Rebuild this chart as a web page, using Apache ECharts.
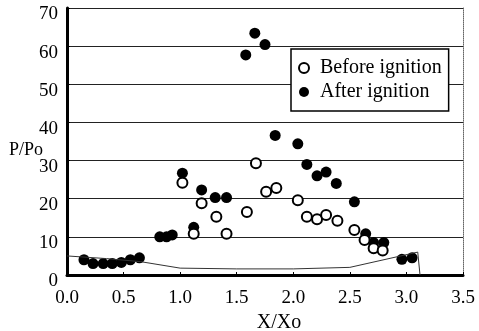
<!DOCTYPE html>
<html>
<head>
<meta charset="utf-8">
<script src="https://cdn.jsdelivr.net/npm/echarts@6/dist/echarts.min.js"></script>
<style>
html, body { margin: 0; padding: 0; background: #fff; }
#main { width: 479px; height: 331px; }
</style>
</head>
<body>
<div id="main"></div>
<script>
// 数据：X/Xo 与 P/Po
const beforeX = [1.02, 1.12, 1.19, 1.32, 1.41, 1.59, 1.67, 1.76, 1.85, 2.04, 2.12, 2.21, 2.29, 2.39, 2.54, 2.63, 2.71, 2.79];
const beforeY = [24.2, 10.8, 18.8, 15.3, 10.8, 16.5, 29.3, 21.8, 22.8, 19.6, 15.3, 14.6, 15.7, 14.2, 11.8, 9.2, 7.0, 6.4];
const afterX = [0.15, 0.23, 0.32, 0.40, 0.48, 0.56, 0.64, 0.82, 0.88, 0.93, 1.02, 1.12, 1.19, 1.31, 1.41, 1.58, 1.66, 1.75, 1.84, 2.04, 2.12, 2.21, 2.29, 2.38, 2.54, 2.64, 2.71, 2.80, 2.96, 3.05];
const afterY = [4.0, 3.0, 3.0, 3.0, 3.3, 4.0, 4.5, 10.0, 10.0, 10.5, 26.7, 12.5, 22.3, 20.3, 20.3, 57.7, 63.4, 60.4, 36.6, 34.4, 29.0, 26.0, 27.0, 24.0, 19.2, 10.8, 8.5, 8.5, 4.1, 4.5];
// 底部的细线
const lineX = [0.0, 0.35, 0.65, 1.0, 1.5, 2.0, 2.5, 3.1, 3.12];
const lineY = [5.0, 4.3, 3.5, 1.8, 1.6, 1.6, 2.0, 6.0, 0.0];
const xTicks = [0, 0.5, 1, 1.5, 2, 2.5, 3, 3.5];
const yTicks = [0, 10, 20, 30, 40, 50, 60, 70];

const zip = (xs, ys) => xs.map((x, i) => [x, ys[i]]);
const font = '"Liberation Serif", "DejaVu Serif", serif';

const option = {
  animation: false,
  backgroundColor: '#fff',
  textStyle: { fontFamily: font, color: '#000' },
  grid: { left: 67, right: 16, top: 8, bottom: 56, containLabel: false, outerBoundsMode: 'none' },
  legend: {
    data: ['Before ignition', 'After ignition'],
    orient: 'vertical',
    left: 291,
    top: 49,
    padding: [9, 7, 9, 7],
    itemGap: 4,
    itemWidth: 10,
    itemHeight: 10,
    backgroundColor: '#fff',
    borderColor: '#000',
    borderWidth: 1.5,
    borderRadius: 0,
    textStyle: { fontFamily: font, fontSize: 20, color: '#000', padding: [0, 0, 0, 6] }
  },
  xAxis: {
    type: 'value',
    min: xTicks[0],
    max: xTicks[xTicks.length - 1],
    interval: 0.5,
    name: 'X/Xo',
    nameLocation: 'middle',
    nameGap: 38,
    nameTextStyle: { fontFamily: font, fontSize: 20, color: '#000', padding: [0, 0, 0, 28] },
    axisLine: { lineStyle: { color: '#000', width: 3 } },
    axisTick: { show: true, inside: true, length: 3, lineStyle: { color: '#000' } },
    axisLabel: { fontFamily: font, fontSize: 19, color: '#000', margin: 14, formatter: v => v.toFixed(1) },
    splitLine: { show: false }
  },
  yAxis: [{
    type: 'value',
    min: yTicks[0],
    max: yTicks[yTicks.length - 1],
    interval: 10,
    name: 'P/Po',
    nameLocation: 'middle',
    nameRotate: 0,
    nameGap: 24,
    nameMoveOverlap: false,
    nameTextStyle: { fontFamily: font, fontSize: 18, color: '#000', verticalAlign: 'top' },
    axisLine: { lineStyle: { color: '#000', width: 3 } },
    axisTick: { show: true, inside: true, length: 3, lineStyle: { color: '#000' } },
    axisLabel: { fontFamily: font, fontSize: 19, color: '#000', margin: 9, verticalAlign: 'top', padding: [-3, 0, 0, 0] },
    splitLine: { show: true, lineStyle: { color: '#222', width: 1 } }
  }, {
    type: 'value',
    position: 'right',
    min: 0,
    max: 70,
    axisLine: { show: true, lineStyle: { color: '#666', width: 1, type: 'dotted' } },
    axisTick: { show: false },
    axisLabel: { show: false },
    splitLine: { show: false }
  }],
  series: [
    {
      type: 'line',
      data: zip(lineX, lineY),
      showSymbol: false,
      symbol: 'none',
      silent: true,
      lineStyle: { color: '#333', width: 1 }
    },
    {
      name: 'After ignition',
      type: 'scatter',
      symbol: 'circle',
      symbolSize: 11,
      data: zip(afterX, afterY),
      itemStyle: { color: '#000', opacity: 1 }
    },
    {
      name: 'Before ignition',
      type: 'scatter',
      symbol: 'circle',
      symbolSize: 10,
      data: zip(beforeX, beforeY),
      itemStyle: { color: '#fff', borderColor: '#000', borderWidth: 2, opacity: 1 }
    }
  ]
};

const myChart = echarts.init(document.getElementById('main'));
myChart.setOption(option);
</script>
</body>
</html>
